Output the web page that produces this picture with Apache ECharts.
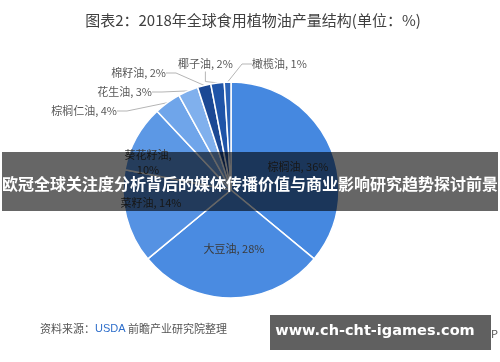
<!DOCTYPE html>
<html><head><meta charset="utf-8">
<script src="https://cdn.jsdelivr.net/npm/echarts@6/dist/echarts.min.js"></script>
<style>html,body{margin:0;padding:0;background:#fff}#c{width:500px;height:362px}</style>
</head><body><div id="c"></div>
<script>
var categories = ['棕榈油','大豆油','菜籽油','葵花籽油','棕榈仁油','花生油','棉籽油','椰子油','橄榄油'];
var values = [36, 28, 14, 10, 4, 3, 2, 2, 1];
var titleText = '图表2：2018年全球食用植物油产量结构(单位：%)';
var bannerText = '欧冠全球关注度分析背后的媒体传播价值与商业影响研究趋势探讨前景';
var siteText = 'www.ch-cht-igames.com';

var colors = ['#4588E0','#4A8BE1','#5592E3','#5C98E5','#6FA5EA','#80B0ED','#1B4894','#1F54A8','#2A62B7'];
var insideCount = 4;
// label placement (style only)
var labelPos = {
  0: {x: 298, y: 167, align: 'center'},
  1: {x: 234, y: 249, align: 'center'},
  2: {x: 151, y: 203, align: 'center'},
  3: {x: 148, y: 162, align: 'center'},
  4: {x: 117, y: 111, align: 'right'},
  5: {x: 152, y: 92, align: 'right'},
  6: {x: 166, y: 73, align: 'right'},
  7: {x: 178, y: 64, align: 'left'},
  8: {x: 252, y: 64, align: 'left'}
};

var data = categories.map(function (n, i) {
  var inside = i < insideCount;
  return {
    name: n, value: values[i],
    itemStyle: {color: colors[i]},
    label: {
      position: inside ? 'inside' : 'outside',
      color: inside ? '#3a3a3a' : '#595959',
      formatter: i === 3 ? '{b},\n{c}%' : '{b}, {c}%'
    },
    labelLine: {show: !inside}
  };
});

var chart = echarts.init(document.getElementById('c'), null, {renderer: 'canvas'});
chart.setOption({
  animation: false,
  title: {text: titleText, left: 248, top: 8, textAlign: 'center',
    textStyle: {fontSize: 15, fontWeight: 'normal', color: '#404040', fontFamily: 'Noto Sans CJK SC'}},
  series: [{
    type: 'pie',
    center: [231, 190],
    radius: [0, 108],
    startAngle: 90,
    clockwise: true,
    data: data,
    itemStyle: {borderColor: '#ffffff', borderWidth: 1.5},
    label: {fontSize: 11, fontFamily: 'Noto Sans CJK SC', lineHeight: 15},
    labelLine: {lineStyle: {color: '#b5b5b5', width: 1}, length: 10, length2: 10},
    labelLayout: function (p) {
      var q = labelPos[p.dataIndex];
      return {x: q.x, y: q.y, align: q.align, verticalAlign: 'middle'};
    }
  }],
  graphic: [
    {type: 'text', z: 50, right: 2, top: 328,
      style: {text: '© 前瞻经济学人APP', fontSize: 11, fill: '#555', fontFamily: 'Noto Sans CJK SC'}},
    {type: 'rect', z: 100, shape: {x: 2, y: 152, width: 496, height: 59},
      style: {fill: 'rgba(0,0,0,0.6)'}},
    {type: 'text', z: 101, x: 250, y: 184,
      style: {text: bannerText, fontSize: 16, fontWeight: 'bold', fill: '#fff',
        fontFamily: 'Noto Sans CJK SC', align: 'center', verticalAlign: 'middle'}},
    {type: 'rect', z: 100, shape: {x: 270, y: 315, width: 221, height: 35},
      style: {fill: '#606060'}},
    {type: 'text', z: 101, x: 375, y: 331,
      style: {text: siteText, fontSize: 14.5, fontWeight: 'bold', fill: '#fff',
        fontFamily: 'DejaVu Sans', align: 'center', verticalAlign: 'middle'}},
    {type: 'text', z: 50, x: 40, y: 329,
      style: {
        text: '{g|资料来源：}{b|USDA}{g| 前瞻产业研究院整理}',
        verticalAlign: 'middle',
        rich: {
          g: {fontSize: 11, fill: '#555', color: '#555', fontFamily: 'Noto Sans CJK SC'},
          b: {fontSize: 11, fill: '#2F6FCB', color: '#2F6FCB', fontFamily: 'Liberation Sans'}
        }
      }}
  ]
});
</script>
</body></html>
